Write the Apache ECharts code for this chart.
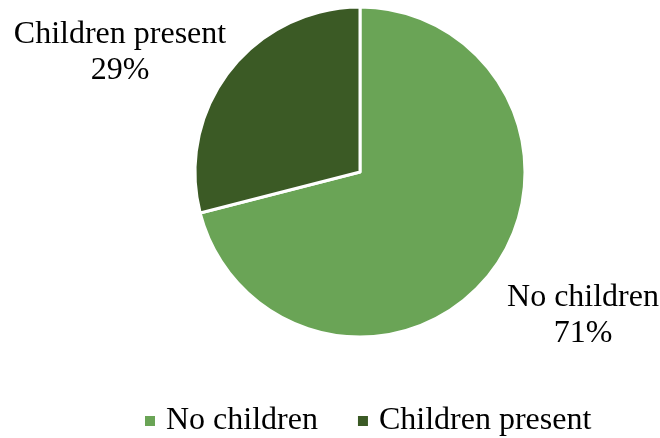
<!DOCTYPE html>
<html><head><meta charset="utf-8">
<script src="https://cdn.jsdelivr.net/npm/echarts@6/dist/echarts.min.js"></script>
<style>html,body{margin:0;padding:0;background:#fff}#c{width:660px;height:438px}</style>
</head><body><div id="c"></div>
<script>
const categories = ["No children", "Children present"];
const values = [71, 29];
const colors = ["#6AA456", "#3B5A25"];
const font = "'Liberation Serif','Times New Roman',serif";
const labelPos = [[583, 316], [120, 53]];
const chart = echarts.init(document.getElementById('c'));
chart.setOption({
  animation: false,
  legend: {
    top: 403, left: 143, padding: 0, itemWidth: 12, itemHeight: 12, itemGap: 38,
    icon: 'rect',
    textStyle: {fontFamily: font, fontSize: 32, lineHeight: 36, color: '#000', padding: [0, 0, 0, 5]},
    data: categories
  },
  series: [{
    type: 'pie',
    center: [360, 172],
    radius: 165,
    startAngle: 90,
    clockwise: true,
    itemStyle: {borderColor: '#fff', borderWidth: 3},
    labelLine: {show: false},
    label: {
      position: 'outside',
      overflow: 'none',
      formatter: p => p.name + '\n' + p.value + '%',
      fontFamily: font, fontSize: 32, lineHeight: 36, color: '#000', align: 'center'
    },
    labelLayout: p => ({
      x: labelPos[p.dataIndex][0], y: labelPos[p.dataIndex][1],
      align: 'center', verticalAlign: 'middle', hideOverlap: false
    }),
    data: categories.map((n, i) => ({
      name: n, value: values[i], itemStyle: {color: colors[i]}
    }))
  }]
});
</script></body></html>
